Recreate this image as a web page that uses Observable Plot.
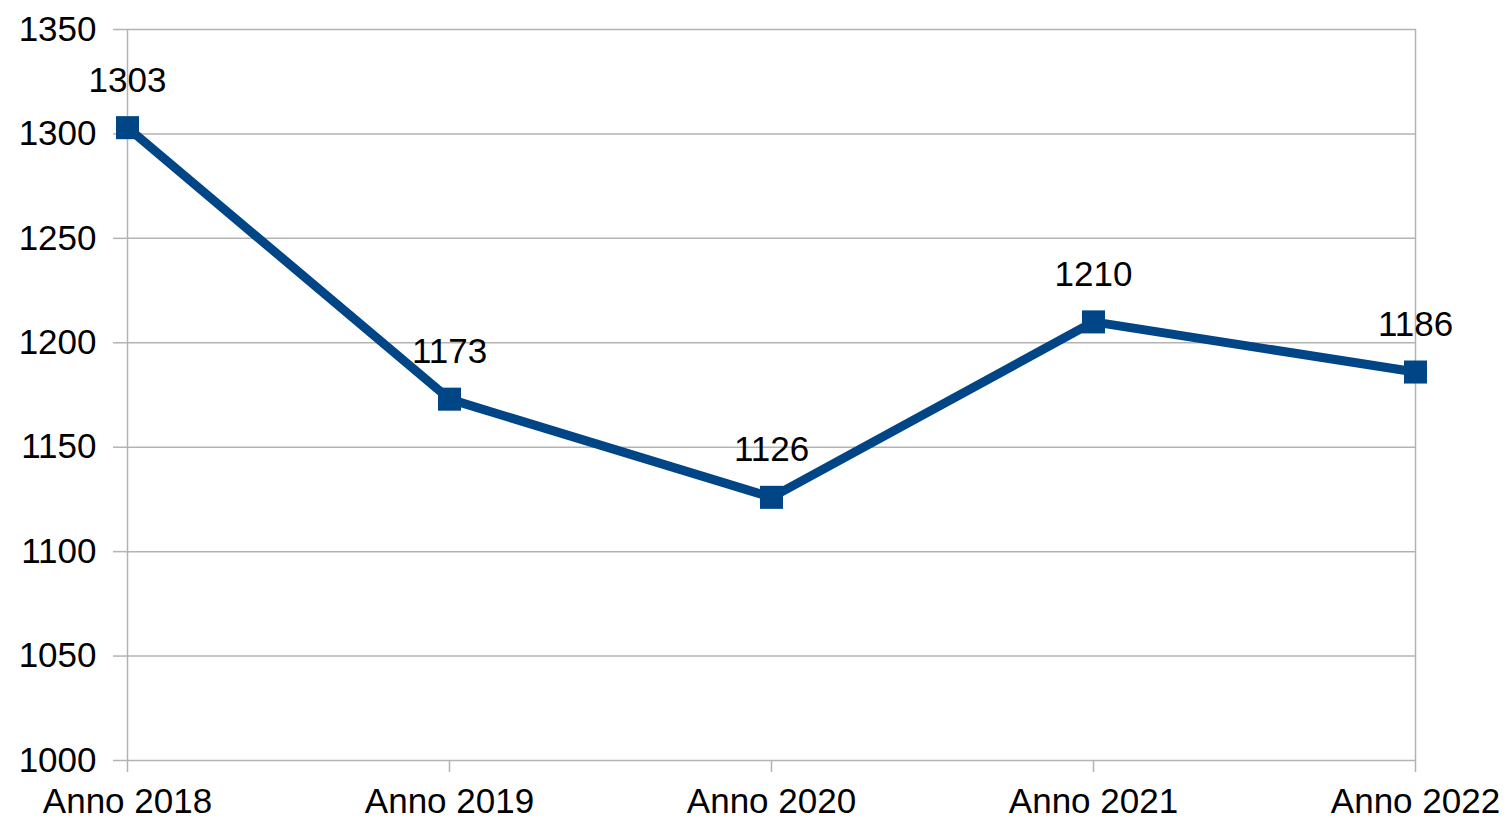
<!DOCTYPE html>
<html>
<head>
<meta charset="utf-8">
<script src="https://cdn.jsdelivr.net/npm/d3@7"></script>
<script src="https://cdn.jsdelivr.net/npm/@observablehq/plot@0.6"></script>
<style>
  html, body { margin: 0; padding: 0; background: #fff; }
</style>
</head>
<body>
<div id="chart"></div>
<script>
const categories = ["Anno 2018", "Anno 2019", "Anno 2020", "Anno 2021", "Anno 2022"];
const values = [1303, 1173, 1126, 1210, 1186];
const yTicks = [1000, 1050, 1100, 1150, 1200, 1250, 1300, 1350];

const data = categories.map((c, i) => ({ year: c, value: values[i] }));
const gray = "#b3b3b3";
const blue = "#004586";

const chart = Plot.plot({
  width: 1510,
  height: 821,
  marginLeft: 125,
  marginRight: 94,
  marginTop: 29,
  marginBottom: 61,
  style: { fontFamily: "'Liberation Sans', Arial, sans-serif", fontSize: "35px", color: "#000", background: "#fff" },
  x: { type: "point", domain: categories, padding: 0 },
  y: { domain: [1000, 1350] },
  marks: [
    Plot.gridY(yTicks, { stroke: gray, strokeOpacity: 1, strokeWidth: 1.5 }),
    Plot.ruleX([categories[0], categories[categories.length - 1]], { stroke: gray, strokeWidth: 1.5 }),
    Plot.axisY(yTicks, { tickSize: 12, tickPadding: 17, stroke: gray, strokeWidth: 1.5, fill: "#000", label: null, tickFormat: d => String(d) }),
    Plot.axisX({ tickSize: 12, tickPadding: 16, stroke: gray, strokeWidth: 1.5, fill: "#000", label: null }),
    Plot.line(data, { x: "year", y: "value", stroke: blue, strokeWidth: 9 }),
    Plot.dot(data, { x: "year", y: "value", symbol: "square", r: 13, fill: blue, stroke: "none" }),
    Plot.text(data, { x: "year", y: "value", text: d => String(d.value), dy: -36, lineAnchor: "bottom", textAnchor: "middle", fill: "#000", fontSize: 35 })
  ]
});
document.getElementById("chart").appendChild(chart);
</script>
</body>
</html>
